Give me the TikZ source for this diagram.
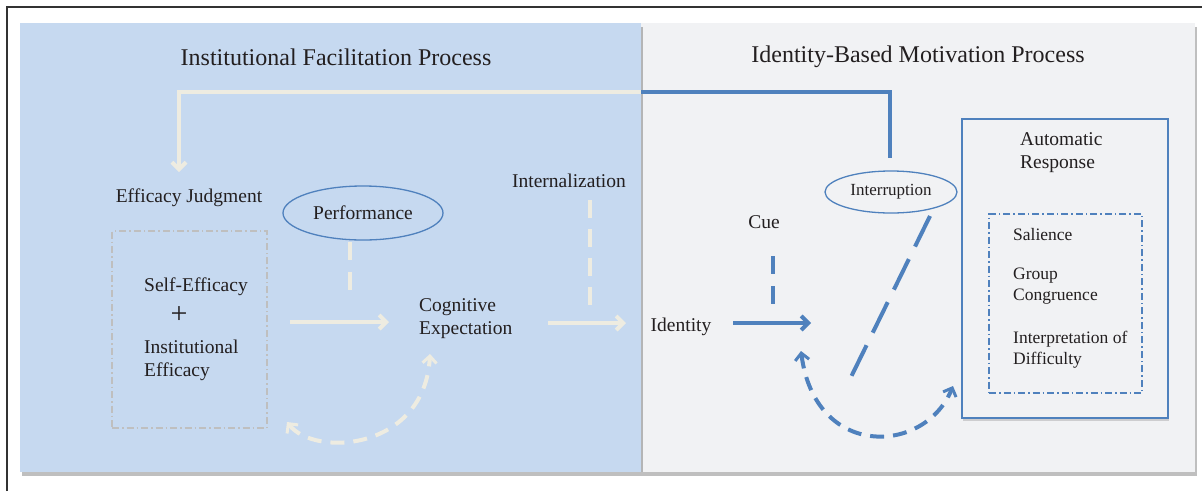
\documentclass[tikz,border=0pt]{standalone}
\usepackage{fontspec}
\setmainfont{Liberation Serif}
\usetikzlibrary{arrows.meta,shapes.geometric,shadows}
\definecolor{leftfill}{HTML}{C6D9F0}
\definecolor{rightfill}{HTML}{F1F2F4}
\definecolor{cream}{HTML}{EEECE1}
\definecolor{ibblue}{HTML}{4F81BD}
\definecolor{txt}{HTML}{231F20}
\tikzset{
  lbl/.style={font=\fontsize{19.5}{23}\selectfont, text=txt, inner sep=0pt},
  small/.style={font=\fontsize{17.5}{21}\selectfont, text=txt, inner sep=0pt, align=left},
  ttl/.style={font=\fontsize{24}{28}\selectfont, text=txt, inner sep=0pt},
  creamline/.style={draw=cream, line width=4pt},
  blueline/.style={draw=ibblue, line width=4pt},
  creamarrow/.style={creamline, -{Straight Barb[length=7pt,width=14pt,line width=4pt]}},
  bluearrow/.style={blueline, -{Straight Barb[length=7pt,width=14pt,line width=4pt]}},
  curvedash/.style={dash pattern=on 14pt off 9pt, line width=4pt},
  curvetips/.style={{Straight Barb[length=7pt,width=14pt,line width=3pt]}-{Straight Barb[length=7pt,width=14pt,line width=3pt]}},
  oval/.style={ellipse, draw=ibblue, line width=1.3pt, inner sep=0pt, text=txt},
  panelshadow/.style={drop shadow={shadow xshift=2pt, shadow yshift=-4pt, fill=black, opacity=0.25}},
}
\begin{document}
\begin{tikzpicture}[x=1pt,y=-1pt]
\useasboundingbox (0,0) rectangle (1202,491);
\fill[white] (0,0) rectangle (1202,491);
% frame lines
\draw[black!80, line width=1.2pt] (7,491) -- (7,7) -- (1202,7);
% panels
\path[fill=rightfill, panelshadow] (641,23) rectangle (1195,472);
\path[fill=leftfill, panelshadow] (20,23) rectangle (641,472);
% titles
\node[ttl] (t1) at (336,57) {Institutional Facilitation Process};
\node[ttl] (t2) at (918,57) {Identity-Based Motivation Process};
% nodes
\node[lbl] (ej) at (189,198) {Efficacy Judgment};
\node[draw=black!25, dash pattern=on 7pt off 3pt on 1.5pt off 3pt, line width=1.2pt, minimum width=155pt, minimum height=197pt] (ebox) at (189.5,329.5) {};
\node[lbl, anchor=west] (se) at (144,287) {Self-Efficacy};
\node[font=\fontsize{30}{30}\selectfont, text=txt, inner sep=0pt] (plus) at (179,315) {+};
\node[lbl, anchor=west, align=left] (ie) at (144,360.5) {Institutional\\Efficacy};
\node[oval, minimum width=160pt, minimum height=54pt, font=\fontsize{19.5}{23}\selectfont] (perf) at (363,213) {Performance};
\node[lbl, anchor=west, align=left] (ce) at (419,319) {Cognitive\\Expectation};
\node[lbl] (intz) at (569,181) {Internalization};
\node[lbl] (ident) at (681,327) {Identity};
\node[lbl] (cue) at (764,222) {Cue};
\node[oval, fill=rightfill, minimum width=132pt, minimum height=42pt, font=\fontsize{17}{20}\selectfont] (intr) at (891,192) {Interruption};
\node[draw=ibblue, line width=1.5pt, minimum width=206pt, minimum height=299pt, drop shadow={shadow xshift=1pt, shadow yshift=-3pt, fill=black, opacity=0.15}, fill=rightfill] (abox) at (1065,268.5) {};
\node[lbl, anchor=west, align=left] (ar) at (1020,153) {Automatic\\Response};
\node[draw=ibblue, dash pattern=on 7pt off 3pt on 1.5pt off 3pt, line width=1.2pt, minimum width=153pt, minimum height=179pt] (ibox) at (1065.5,303.5) {};
\node[small, anchor=west] (sal) at (1013,235) {Salience};
\node[small, anchor=west] (gc) at (1013,286.5) {Group\\Congruence};
\node[small, anchor=west] (iod) at (1013,350) {Interpretation of\\Difficulty};
% coordinates for connectors
\coordinate (split) at (641,92);
\coordinate (topL) at (179,92);
\coordinate (ejtop) at (179,172);
\coordinate (topR) at (890,92);
\coordinate (intrtop) at (890,158);
\coordinate (pd1) at (350,242);
\coordinate (pd2) at (350,290);
\coordinate (a1s) at (290,322);
\coordinate (a1e) at (389,322);
\coordinate (in1) at (590,200);
\coordinate (in2) at (590,305);
\coordinate (a2s) at (548,323);
\coordinate (a2e) at (626,323);
\coordinate (a3s) at (733,323);
\coordinate (a3e) at (811,323);
\coordinate (cd1) at (773,256);
\coordinate (cd2) at (773,304);
\coordinate (id1) at (930,216);
\coordinate (id2) at (851,377);
\coordinate (ca) at (430,354);
\coordinate (cb) at (287,422);
\coordinate (ba) at (801,351);
\coordinate (bb) at (953,386);
% connectors
\draw[creamline] (split) -- (topL) -- ([yshift=3pt]ejtop);
\draw[creamarrow] (topL) -- (ejtop);
\draw[blueline, line join=miter] (split) -- (topR) -- (intrtop);
\draw[creamline, dash pattern=on 18pt off 12pt] (pd1) -- (pd2);
\draw[creamarrow] (a1s) -- (a1e);
\draw[creamline, dash pattern=on 18pt off 11pt] (in1) -- (in2);
\draw[creamarrow] (a2s) -- (a2e);
\draw[bluearrow] (a3s) -- (a3e);
\draw[blueline, dash pattern=on 18pt off 12pt] (cd1) -- (cd2);
\draw[blueline, dash pattern=on 34pt off 14pt] (id1) -- (id2);
\draw[draw=cream, curvedash, curvetips]
  (cb) .. controls (315,458) and (425,450) .. (ca);
\draw[draw=ibblue, curvedash, curvetips]
  (ba) .. controls (815,460) and (925,455) .. (bb);
\end{tikzpicture}
\end{document}
